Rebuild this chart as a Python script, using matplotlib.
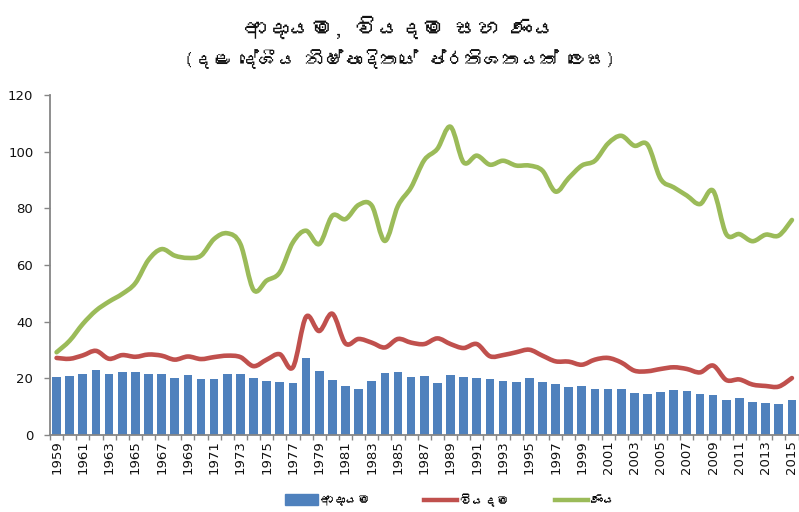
import matplotlib
matplotlib.use("Agg")
import matplotlib.pyplot as plt
from matplotlib import font_manager
from matplotlib.path import Path
from matplotlib.patches import PathPatch, Patch
from matplotlib.lines import Line2D
import numpy as np

# ---------------- data ----------------
years = list(range(1959, 2016))
revenue = [20.6, 20.8, 21.7, 23.0, 21.4, 22.4, 22.4, 21.7, 21.4, 20.0,
           21.1, 19.9, 19.9, 21.4, 21.6, 20.0, 19.0, 18.8, 18.3, 27.2,
           22.7, 19.3, 17.2, 16.1, 19.0, 21.9, 22.2, 20.6, 20.9, 18.4,
           21.1, 20.6, 20.1, 19.8, 19.2, 18.6, 20.0, 18.6, 18.0, 16.8,
           17.3, 16.2, 16.2, 16.2, 14.8, 14.5, 15.1, 15.8, 15.4, 14.5,
           14.0, 12.4, 12.9, 11.5, 11.4, 10.9, 12.5]
expenditure = [27.2, 26.9, 28.1, 29.7, 26.9, 28.2, 27.6, 28.4, 28.0, 26.6,
               27.7, 26.8, 27.5, 28.0, 27.5, 24.3, 26.6, 28.5, 23.9, 41.7,
               36.7, 42.8, 32.3, 33.9, 32.6, 30.9, 33.9, 32.6, 32.1, 34.1,
               32.1, 30.7, 32.1, 27.8, 28.2, 29.2, 30.1, 28.0, 26.0, 25.9,
               24.8, 26.6, 27.2, 25.6, 22.7, 22.5, 23.3, 23.9, 23.3, 22.1,
               24.5, 19.4, 19.6, 17.8, 17.3, 17.1, 20.1]
debt = [29.2, 33.3, 39.2, 43.9, 47.1, 49.8, 53.6, 61.8, 65.6, 63.3,
        62.5, 63.3, 69.2, 71.2, 67.4, 51.2, 54.5, 57.4, 68.0, 72.1,
        67.4, 77.4, 76.2, 81.2, 81.0, 68.5, 80.9, 87.4, 97.0, 101.0,
        108.8, 96.2, 98.6, 95.4, 96.8, 95.1, 95.1, 93.3, 85.9, 90.7,
        95.1, 96.8, 102.9, 105.6, 102.1, 102.5, 90.4, 87.4, 84.5, 81.5,
        86.2, 70.9, 70.9, 68.4, 70.7, 70.4, 75.9]

title_line1 = "ආදායම, වියදම සහ ණය"
title_line2 = "(දළ දේශීය නිෂ්පාදිතයේ ප්රතිශතයක් ලෙස)"
series_names = ["ආදායම", "වියදම", "ණය"]
yticks = [0, 20, 40, 60, 80, 100, 120]

# ---------------- fonts ----------------
def find_sinhala_fonts():
    found = []
    try:
        from fontTools.ttLib import TTFont
    except Exception:
        TTFont = None
    for fe in font_manager.fontManager.ttflist:
        name = fe.name
        if name in found:
            continue
        if "sinhala" in name.lower():
            found.append(name)
            continue
        if TTFont is None:
            continue
        try:
            f = TTFont(fe.fname, fontNumber=0, lazy=True)
            cmap = f.getBestCmap()
            if cmap and 0x0D9A in cmap and 0x0DBA in cmap:
                found.append(name)
        except Exception:
            pass
    return found

sinh = find_sinhala_fonts()
plt.rcParams['font.family'] = ["DejaVu Sans"]
sinh_family = sinh + ["DejaVu Sans"]

# ---------------- figure ----------------
W, H = 799, 512
fig = plt.figure(figsize=(W / 100, H / 100), dpi=100)
ax_left, ax_right = 50 / W, 798.5 / W
ax_bottom, ax_top = (H - 435) / H, (H - 95) / H
ax = fig.add_axes([ax_left, ax_bottom, ax_right - ax_left, ax_top - ax_bottom])

blue = "#4F81BD"
red = "#C0504D"
green = "#9BBB59"

x = np.array(years, dtype=float)
ax.bar(x, revenue, width=0.66, color=blue, zorder=2)


def smooth_path(xs, ys):
    pts = np.column_stack([xs, ys])
    n = len(pts)
    verts = [pts[0]]
    codes = [Path.MOVETO]
    for i in range(n - 1):
        p0 = pts[i - 1] if i > 0 else pts[i]
        p1 = pts[i]
        p2 = pts[i + 1]
        p3 = pts[i + 2] if i + 2 < n else pts[i + 1]
        c1 = p1 + (p2 - p0) / 6.0
        c2 = p2 - (p3 - p1) / 6.0
        verts += [c1, c2, p2]
        codes += [Path.CURVE4] * 3
    return Path(verts, codes)

for vals, col in [(expenditure, red), (debt, green)]:
    patch = PathPatch(smooth_path(x, np.array(vals, dtype=float)),
                      facecolor="none", edgecolor=col, lw=3.3,
                      capstyle="round", joinstyle="round", zorder=3)
    ax.add_patch(patch)

ax.set_xlim(years[0] - 0.5, years[-1] + 0.5)
ax.set_ylim(0, 120)

ax.set_yticks(yticks)
ax.set_yticklabels([str(v) for v in yticks])
ax.set_xticks(years[::2])
ax.set_xticklabels([str(y) for y in years[::2]], rotation=90)
ax.set_xticks(np.arange(years[0] - 0.5, years[-1] + 1.0, 1.0), minor=True)

spine_col = "#868686"
for s in ["top", "right"]:
    ax.spines[s].set_visible(False)
for s in ["left", "bottom"]:
    ax.spines[s].set_color(spine_col)
    ax.spines[s].set_linewidth(1.3)

ax.tick_params(axis="y", direction="out", length=4, width=1.0, color=spine_col,
               pad=8, labelsize=9.5, labelcolor="#111111")
ax.tick_params(axis="x", which="major", length=0, pad=4, labelsize=9.5,
               labelcolor="#111111")
ax.tick_params(axis="x", which="minor", direction="out", length=3.5, width=1.0,
               color=spine_col)

# ---------------- titles ----------------
fig.text(400 / W, 1 - 27 / H, title_line1, ha="center", va="center",
         fontsize=16, fontweight="bold", color="#111111", family=sinh_family)
fig.text(400 / W, 1 - 59 / H, title_line2, ha="center", va="center",
         fontsize=13.5, fontweight="bold", color="#111111", family=sinh_family)

# ---------------- legend ----------------
handles = [Patch(facecolor=blue, edgecolor=blue),
           Line2D([], [], color=red, lw=3.2),
           Line2D([], [], color=green, lw=3.2)]
starts = [285, 424, 555]
for h, name, xs in zip(handles, series_names, starts):
    fig.legend([h], [name], loc="center left",
               bbox_to_anchor=(xs / W, 1 - 500 / H),
               frameon=False, handlelength=2.6, handleheight=0.9,
               handletextpad=0.2, borderpad=0, borderaxespad=0,
               prop={"family": sinh_family, "size": 9})

fig.savefig("out.png", dpi=100)
